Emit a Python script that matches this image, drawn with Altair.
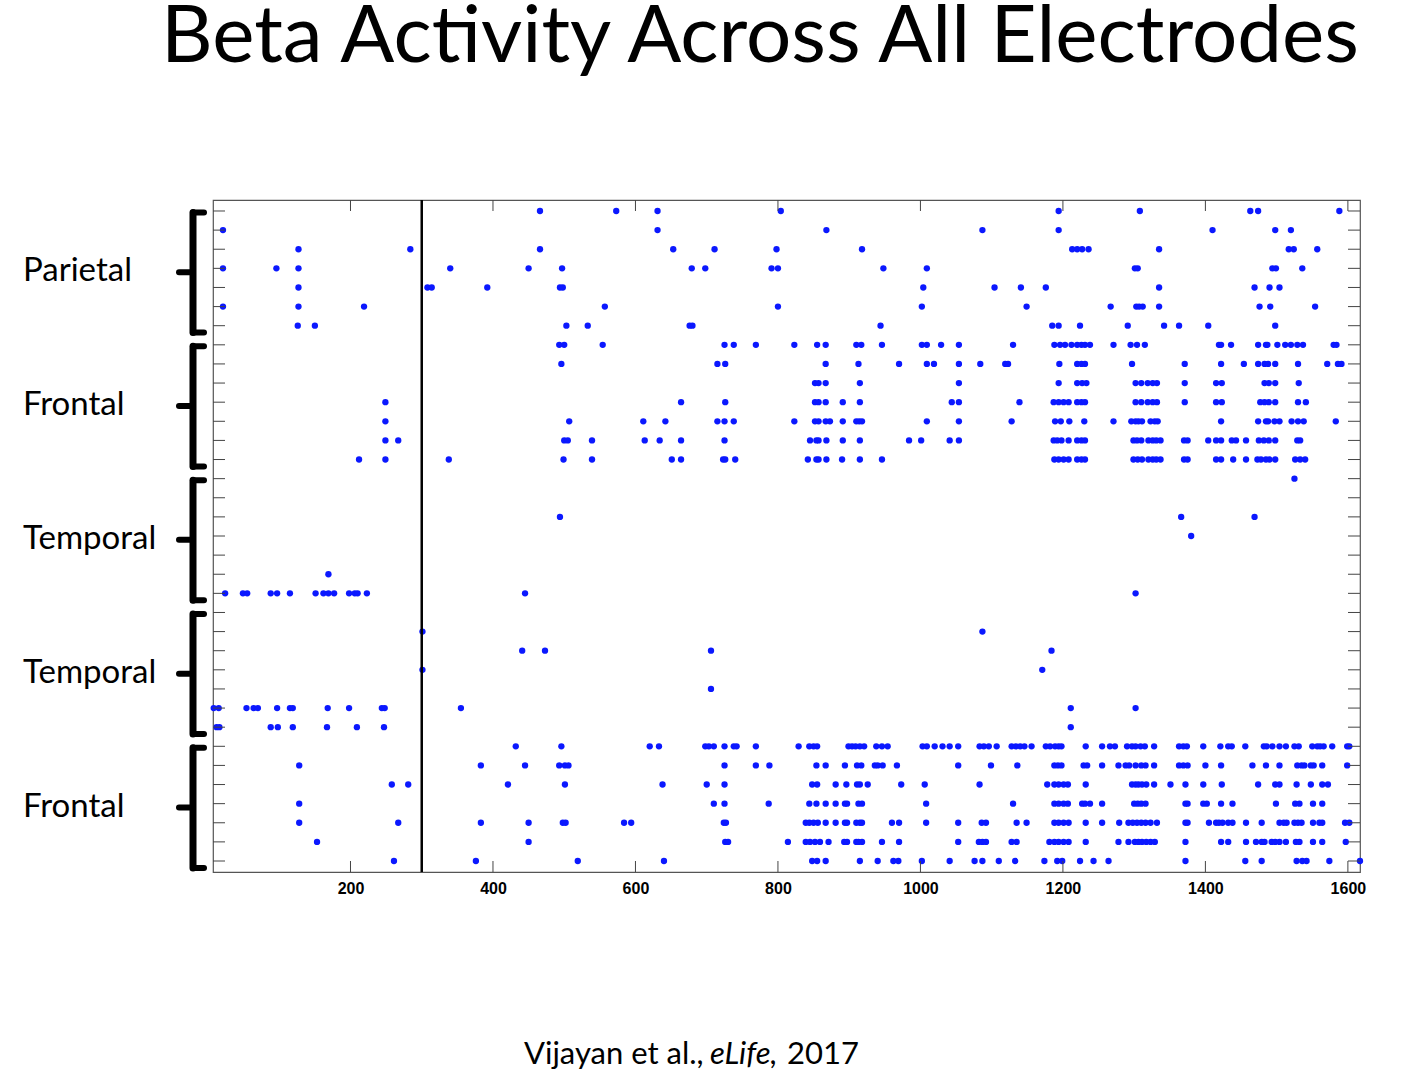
import altair as alt
import pandas as pd

# ---- data: trial numbers with beta activity, one list per electrode (top to bottom) ----
row01 = [466, 573, 631, 804, 1194, 1308, 1463, 1474, 1588]
row02 = [21, 631, 868, 1087, 1194, 1410, 1498, 1520]
row03 = [127, 284, 466, 653, 711, 798, 918, 1213, 1220, 1227, 1236, 1335, 1517, 1524, 1557]
row04 = [21, 96, 127, 340, 450, 497, 679, 698, 791, 800, 948, 1009, 1301, 1305, 1494, 1499, 1536]
row05 = [127, 308, 314, 392, 494, 498, 1004, 1104, 1141, 1176, 1335, 1469, 1490, 1504]
row06 = [21, 127, 219, 557, 800, 1002, 1149, 1267, 1303, 1307, 1312, 1335, 1476, 1491, 1554]
row07 = [126, 150, 503, 533, 676, 680, 944, 1185, 1194, 1224, 1291, 1342, 1363, 1404, 1498]
row08 = [493, 500, 554, 725, 738, 769, 823, 855, 867, 910, 917, 946, 1002, 1009, 1029, 1054, 1130,
         1188, 1196, 1203, 1212, 1220, 1226, 1231, 1238, 1271, 1295, 1304, 1315, 1419, 1422, 1436,
         1474, 1485, 1487, 1501, 1512, 1520, 1529, 1537, 1580, 1584]
row09 = [496, 715, 726, 867, 913, 970, 1009, 1019, 1054, 1084, 1119, 1123, 1195, 1220, 1226, 1231,
         1297, 1371, 1422, 1454, 1474, 1483, 1488, 1498, 1530, 1571, 1586, 1591]
row10 = [852, 857, 867, 915, 1054, 1194, 1220, 1227, 1233, 1302, 1310, 1319, 1326, 1332, 1371, 1415,
         1423, 1483, 1489, 1498, 1531]
row11 = [249, 664, 726, 852, 857, 867, 891, 915, 1044, 1054, 1139, 1187, 1194, 1201, 1208, 1220, 1226,
         1231, 1302, 1310, 1319, 1326, 1332, 1371, 1415, 1423, 1477, 1483, 1489, 1498, 1530, 1541]
row12 = [249, 507, 611, 642, 715, 725, 738, 823, 852, 857, 867, 873, 891, 910, 914, 918, 1009, 1054,
         1128, 1189, 1197, 1209, 1230, 1271, 1296, 1302, 1306, 1311, 1323, 1329, 1333, 1422, 1474,
         1485, 1488, 1497, 1504, 1521, 1530, 1538, 1583]
row13 = [249, 267, 500, 505, 539, 613, 634, 664, 725, 845, 854, 857, 868, 891, 915, 984, 1001, 1041,
         1054, 1187, 1192, 1198, 1208, 1220, 1226, 1231, 1299, 1304, 1310, 1320, 1326, 1331, 1337,
         1370, 1375, 1404, 1415, 1422, 1437, 1443, 1457, 1475, 1482, 1489, 1498, 1529, 1533]
row14 = [212, 249, 338, 499, 539, 651, 664, 723, 726, 740, 842, 854, 857, 868, 890, 915, 946, 1188,
         1194, 1201, 1208, 1220, 1226, 1231, 1299, 1305, 1311, 1320, 1326, 1331, 1337, 1370, 1375,
         1415, 1422, 1439, 1457, 1473, 1478, 1485, 1490, 1498, 1526, 1533, 1540]
row15 = [1525]
row16 = []
row17 = [494, 1366, 1469]
row18 = [1380]
row19 = []
row20 = [169]
row21 = [24, 49, 55, 88, 97, 115, 151, 162, 169, 177, 198, 206, 210, 223, 445, 1302]
row22 = []
row23 = [301, 1087]
row24 = [441, 473, 706, 1184]
row25 = [301, 1171]
row26 = [706]
row27 = [8, 15, 54, 64, 70, 97, 115, 119, 168, 198, 244, 248, 355, 1211, 1302]
row28 = [12, 16, 88, 98, 119, 167, 209, 247, 1211]
row29 = [432, 496, 620, 633, 698, 703, 710, 725, 738, 742, 769, 829, 844, 850, 855, 899, 904, 909,
         915, 921, 938, 946, 954, 1003, 1009, 1020, 1031, 1041, 1053, 1083, 1089, 1096, 1107, 1128,
         1134, 1140, 1146, 1156, 1176, 1182, 1189, 1194, 1198, 1232, 1255, 1266, 1273, 1290, 1297,
         1302, 1309, 1315, 1328, 1363, 1369, 1374, 1397, 1421, 1432, 1437, 1456, 1482, 1486, 1494,
         1504, 1513, 1525, 1531, 1550, 1557, 1561, 1566, 1578, 1599, 1602]
row30 = [128, 383, 445, 493, 501, 506, 725, 769, 788, 854, 867, 894, 911, 917, 936, 940, 947, 967,
         1053, 1099, 1136, 1188, 1193, 1198, 1229, 1234, 1255, 1278, 1288, 1293, 1302, 1310, 1316,
         1328, 1363, 1369, 1375, 1400, 1422, 1466, 1485, 1504, 1529, 1535, 1539, 1548, 1552, 1564, 1599]
row31 = [258, 281, 421, 501, 638, 700, 725, 848, 855, 881, 896, 911, 915, 926, 973, 1006, 1083, 1178,
         1188, 1194, 1201, 1207, 1232, 1297, 1302, 1306, 1311, 1317, 1328, 1351, 1372, 1397, 1423,
         1474, 1498, 1504, 1528, 1548, 1564, 1572]
row32 = [128, 710, 725, 787, 844, 854, 867, 881, 894, 897, 913, 918, 1008, 1130, 1188, 1194, 1201,
         1207, 1227, 1231, 1238, 1255, 1300, 1305, 1310, 1316, 1372, 1375, 1397, 1402, 1422, 1438,
         1499, 1526, 1532, 1551, 1564]
row33 = [128, 267, 383, 450, 498, 502, 584, 594, 724, 727, 839, 844, 850, 856, 867, 881, 894, 897,
         910, 915, 918, 960, 970, 1008, 1053, 1086, 1092, 1135, 1149, 1188, 1194, 1201, 1208, 1232,
         1255, 1279, 1292, 1298, 1304, 1310, 1316, 1323, 1332, 1372, 1375, 1405, 1415, 1419, 1424,
         1432, 1438, 1457, 1479, 1504, 1510, 1514, 1525, 1530, 1535, 1551, 1560, 1564, 1596, 1602]
row34 = [153, 450, 726, 730, 814, 839, 845, 852, 859, 871, 893, 897, 910, 913, 918, 946, 970, 1053,
         1082, 1087, 1092, 1128, 1135, 1181, 1188, 1194, 1201, 1208, 1232, 1278, 1292, 1301, 1306,
         1311, 1317, 1323, 1329, 1372, 1422, 1432, 1457, 1471, 1479, 1483, 1493, 1498, 1504, 1513,
         1527, 1532, 1551, 1564, 1597]
row35 = [261, 376, 519, 640, 848, 855, 867, 915, 940, 962, 969, 1002, 1041, 1076, 1087, 1110, 1133,
         1174, 1192, 1199, 1224, 1243, 1264, 1372, 1456, 1479, 1528, 1536, 1542, 1574, 1617]

stim_trial = [300]
x_tick_values = [200, 400, 600, 800, 1000, 1200, 1400, 1600]
group_names = ["Parietal", "Frontal", "Temporal", "Temporal", "Frontal"]
group_first = [1, 8, 15, 22, 29]
group_last = [7, 14, 21, 28, 35]

title_text = "Beta Activity Across All Electrodes"
cite_authors = "Vijayan et al.,"
cite_journal = "eLife,"
cite_year = "2017"

rows_all = [row01, row02, row03, row04, row05, row06, row07, row08, row09, row10,
            row11, row12, row13, row14, row15, row16, row17, row18, row19, row20,
            row21, row22, row23, row24, row25, row26, row27, row28, row29, row30,
            row31, row32, row33, row34, row35]

df = pd.DataFrame([{"trial": t, "electrode": i + 1}
                   for i, r in enumerate(rows_all) for t in r])
df_stim = pd.DataFrame({"t": stim_trial})
df_xt = pd.DataFrame({"v": x_tick_values})
df_yt = pd.DataFrame({"e": list(range(1, len(rows_all) + 1))})
df_g = pd.DataFrame({"name": group_names, "first": group_first, "last": group_last})

W, H = 1147, 672
xs = alt.Scale(domain=[7, 1617], nice=False, zero=False)
ys = alt.Scale(domain=[0.425, 35.575], reverse=True, nice=False, zero=False)
TICK = "#444444"

dots = alt.Chart(df).mark_circle(size=40, color="#0b18ff", opacity=1).encode(
    x=alt.X("trial:Q", scale=xs,
            axis=alt.Axis(values=x_tick_values, format="d", ticks=False, domain=False, grid=False,
                          labelFont="Liberation Sans", labelFontWeight="bold",
                          labelFontSize=16, labelColor="black", labelPadding=8, title=None)),
    y=alt.Y("electrode:Q", scale=ys, axis=None),
)

stim = alt.Chart(df_stim).mark_rule(color="black", strokeWidth=2.5).encode(
    x=alt.X("t:Q", scale=xs))

xt_bottom = alt.Chart(df_xt).mark_rule(color=TICK, strokeWidth=1).encode(
    x=alt.X("v:Q", scale=xs), y=alt.value(H), y2=alt.value(H - 11))
xt_top = alt.Chart(df_xt).mark_rule(color=TICK, strokeWidth=1).encode(
    x=alt.X("v:Q", scale=xs), y=alt.value(0), y2=alt.value(11))
yt_left = alt.Chart(df_yt).mark_rule(color=TICK, strokeWidth=1).encode(
    y=alt.Y("e:Q", scale=ys), x=alt.value(0), x2=alt.value(12))
yt_right = alt.Chart(df_yt).mark_rule(color=TICK, strokeWidth=1).encode(
    y=alt.Y("e:Q", scale=ys), x=alt.value(W - 12), x2=alt.value(W))

gbase = alt.Chart(df_g).transform_calculate(
    mid="(datum.first + datum.last) / 2 + 0.15",
    notch="(datum.first + datum.last) / 2 + 0.2",
    top="datum.first + 0.08",
    bottom="datum.last + 0.36",
)
labels = gbase.mark_text(align="left", baseline="middle", font="Lato", fontSize=33,
                         color="black").encode(
    x=alt.value(-190), y=alt.Y("mid:Q", scale=ys), text="name:N")
brace_bar = gbase.mark_rule(color="black", strokeWidth=7, strokeCap="round").encode(
    x=alt.value(-20), y=alt.Y("top:Q", scale=ys), y2="bottom:Q")
brace_top = gbase.mark_rule(color="black", strokeWidth=6, strokeCap="round").encode(
    x=alt.value(-20), x2=alt.value(-9), y=alt.Y("top:Q", scale=ys))
brace_bot = gbase.mark_rule(color="black", strokeWidth=6, strokeCap="round").encode(
    x=alt.value(-20), x2=alt.value(-9), y=alt.Y("bottom:Q", scale=ys))
brace_notch = gbase.mark_rule(color="black", strokeWidth=6, strokeCap="round").encode(
    x=alt.value(-34), x2=alt.value(-20), y=alt.Y("notch:Q", scale=ys))

title = alt.Chart(pd.DataFrame({"t": [title_text]})).mark_text(
    align="center", baseline="alphabetic", font="Lato", fontSize=80, color="black").encode(
    x=alt.value(547), y=alt.value(-138), text="t:N")

cite1 = alt.Chart(pd.DataFrame({"t": [cite_authors]})).mark_text(
    align="left", baseline="alphabetic", font="Lato", fontSize=31, color="black").encode(
    x=alt.value(311), y=alt.value(864), text="t:N")
cite2 = alt.Chart(pd.DataFrame({"t": [cite_journal]})).mark_text(
    align="left", baseline="alphabetic", font="Lato", fontSize=31, fontStyle="italic",
    color="black").encode(x=alt.value(497), y=alt.value(864), text="t:N")
cite3 = alt.Chart(pd.DataFrame({"t": [cite_year]})).mark_text(
    align="left", baseline="alphabetic", font="Lato", fontSize=31, color="black").encode(
    x=alt.value(574), y=alt.value(864), text="t:N")

chart = alt.layer(
    dots, stim, xt_bottom, xt_top, yt_left, yt_right,
    brace_bar, brace_top, brace_bot, brace_notch, labels, title, cite1, cite2, cite3,
).properties(
    width=W, height=H,
    padding={"left": 213, "top": 200, "right": 41, "bottom": 202},
    autosize=alt.AutoSizeParams(type="none"),
    background="white",
).configure_view(stroke="#555555", strokeWidth=1.2)

chart.save("out.html", embed_options={"renderer": "svg", "actions": False})
